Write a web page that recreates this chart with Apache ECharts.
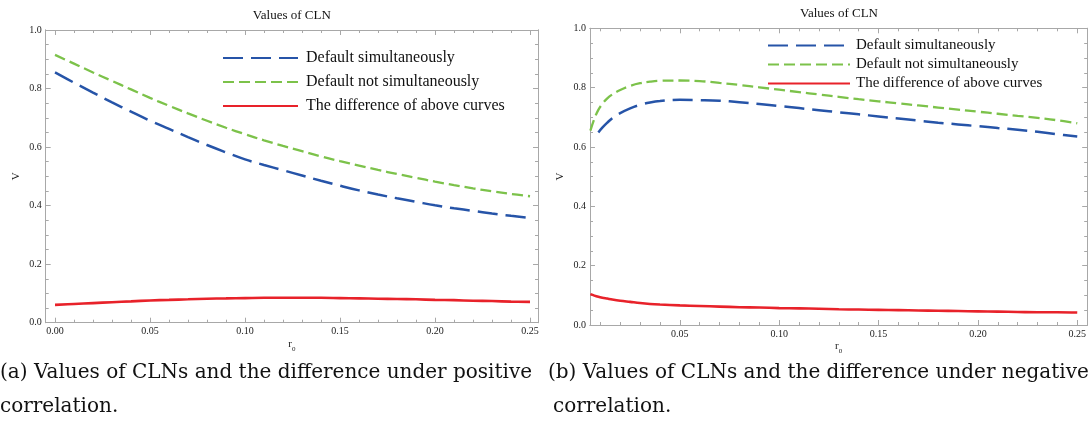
<!DOCTYPE html>
<html>
<head>
<meta charset="utf-8">
<script src="https://cdn.jsdelivr.net/npm/echarts@6/dist/echarts.min.js"></script>
<style>
  html, body { margin: 0; padding: 0; background: #fff; }
  #chart { width: 1089px; height: 435px; }
</style>
</head>
<body>
<div id="chart"></div>
<script>
// series names
var names = ['Default simultaneously', 'Default not simultaneously', 'The difference of above curves'];

// (a) positive correlation
var leftX = [0, 0.01, 0.02, 0.03, 0.04, 0.05, 0.06, 0.07, 0.08, 0.09, 0.10, 0.11, 0.12,
    0.13, 0.14, 0.15, 0.16, 0.17, 0.18, 0.19, 0.20, 0.21, 0.22, 0.23, 0.24, 0.25];
var leftSim = [0.855, 0.820, 0.786, 0.753, 0.721, 0.690, 0.662, 0.634, 0.607, 0.582, 0.558, 0.539, 0.521,
    0.503, 0.485, 0.468, 0.452, 0.438, 0.425, 0.413, 0.401, 0.391, 0.382, 0.373, 0.365, 0.358];
var leftNotSim = [0.915, 0.885, 0.855, 0.826, 0.797, 0.768, 0.741, 0.715, 0.690, 0.666, 0.644, 0.623, 0.604,
    0.586, 0.568, 0.552, 0.537, 0.522, 0.508, 0.495, 0.482, 0.470, 0.459, 0.449, 0.440, 0.432];
var leftDiff = [0.061, 0.064, 0.067, 0.070, 0.073, 0.076, 0.078, 0.080, 0.082, 0.083, 0.084, 0.085, 0.085,
    0.085, 0.085, 0.084, 0.083, 0.082, 0.081, 0.080, 0.078, 0.077, 0.075, 0.074, 0.072, 0.071];

// (b) negative correlation
var rightX = [0.005, 0.007, 0.009, 0.011, 0.0135, 0.016, 0.02, 0.025, 0.03, 0.035, 0.04,
    0.05, 0.06, 0.07, 0.08, 0.09, 0.10, 0.11, 0.12, 0.13, 0.14, 0.15, 0.16, 0.17, 0.18, 0.19,
    0.20, 0.21, 0.22, 0.23, 0.24, 0.25];
var rightSim = [null, null, 0.649, 0.665, 0.682, 0.697, 0.714, 0.730, 0.742, 0.750, 0.755,
    0.759, 0.758, 0.756, 0.751, 0.745, 0.738, 0.731, 0.724, 0.717, 0.710, 0.703, 0.696, 0.689, 0.682, 0.676,
    0.670, 0.664, 0.658, 0.651, 0.643, 0.635];
var rightNotSim = [0.655, 0.695, 0.725, 0.745, 0.764, 0.777, 0.792, 0.806, 0.815, 0.820, 0.823,
    0.824, 0.822, 0.816, 0.809, 0.801, 0.793, 0.785, 0.777, 0.769, 0.761, 0.754, 0.747, 0.740, 0.733, 0.726,
    0.719, 0.712, 0.705, 0.698, 0.690, 0.680];
var rightDiff = [0.104, 0.099, 0.095, 0.092, 0.089, 0.086, 0.082, 0.078, 0.074, 0.071, 0.069,
    0.066, 0.064, 0.062, 0.060, 0.059, 0.057, 0.056, 0.055, 0.053, 0.052, 0.051, 0.050, 0.049, 0.048, 0.047,
    0.046, 0.045, 0.044, 0.043, 0.043, 0.042];

// ticks
var xMajor = [0, 0.05, 0.10, 0.15, 0.20, 0.25];
var xMinor = [0.01, 0.02, 0.03, 0.04, 0.06, 0.07, 0.08, 0.09, 0.11, 0.12, 0.13, 0.14,
    0.16, 0.17, 0.18, 0.19, 0.21, 0.22, 0.23, 0.24];
var yMajor = [0, 0.2, 0.4, 0.6, 0.8, 1.0];
var yMinor = [0.05, 0.1, 0.15, 0.25, 0.3, 0.35, 0.45, 0.5, 0.55, 0.65, 0.7, 0.75, 0.85, 0.9, 0.95];

var serif = '"Liberation Serif", "Times New Roman", serif';
var captionFont = '"DejaVu Serif", serif';
var frameColor = '#a8a8a8';
var colors = ['#2654a8', '#7cc24a', '#e8222a'];

function zip(xs, ys) {
    var out = [];
    for (var i = 0; i < xs.length; i++) out.push([xs[i], ys[i]]);
    return out;
}

// tiny stand-in for $.extend so the file needs no jQuery
var $ = { extend: function(a) {
    for (var i = 1; i < arguments.length; i++) for (var k in arguments[i]) a[k] = arguments[i][k];
    return a;
} };

// one side of the frame: line + inward ticks (+ labels on the main one)
function frameAxis(grid, pos, min, max, ticks, len, label) {
    var isX = pos == 'top' || pos == 'bottom';
    var ax = {
        type: 'value', gridIndex: grid, position: pos, min: min, max: max,
        axisLine: { show: true, onZero: false, lineStyle: { color: frameColor, width: 1 } },
        axisTick: { show: true, inside: true, length: len, customValues: ticks,
            lineStyle: { color: frameColor, width: 1 } },
        axisLabel: { show: !!label, customValues: ticks, color: '#222', fontFamily: serif, fontSize: 10,
            margin: 4,
            formatter: function(v) { return isX ? v.toFixed(2) : v.toFixed(1); } },
        splitLine: { show: false }
    };
    if (label) {
        ax.name = label;
        ax.nameLocation = 'middle';
        ax.nameMoveOverlap = false;
        ax.nameTextStyle = { color: '#222', fontFamily: serif, fontSize: 11,
            rich: { sub: { fontSize: 7, verticalAlign: 'bottom', padding: [0, 0, -3, 0], fontFamily: serif, color: '#222' } } };
        ax.nameGap = isX ? 16 : 24;
    }
    return ax;
}

function gridAxes(grid, xMin, xMax) {
    return {
        x: [
            frameAxis(grid, 'bottom', xMin, xMax, xMajor, 5, 'r{sub|0}'),
            frameAxis(grid, 'bottom', xMin, xMax, xMinor, 3),
            frameAxis(grid, 'top', xMin, xMax, xMajor, 5),
            frameAxis(grid, 'top', xMin, xMax, xMinor, 3)
        ],
        y: [
            frameAxis(grid, 'left', 0, 1, yMajor, 5, 'V'),
            frameAxis(grid, 'left', 0, 1, yMinor, 3),
            frameAxis(grid, 'right', 0, 1, yMajor, 5),
            frameAxis(grid, 'right', 0, 1, yMinor, 3)
        ]
    };
}

function makeSeries(axisIndex, xs, sim, notSim, diff) {
    var base = { type: 'line', xAxisIndex: axisIndex, yAxisIndex: axisIndex, showSymbol: false,
        symbol: 'none', smooth: 0.4, silent: true, z: 3 };
    return [
        $.extend({}, base, { name: names[0], data: zip(xs, sim),
            lineStyle: { color: colors[0], width: 2.5, type: [20, 8] }, itemStyle: { color: colors[0] } }),
        $.extend({}, base, { name: names[1], data: zip(xs, notSim),
            lineStyle: { color: colors[1], width: 2.3, type: [11, 5] }, itemStyle: { color: colors[1] } }),
        $.extend({}, base, { name: names[2], data: zip(xs, diff),
            lineStyle: { color: colors[2], width: 2.6 }, itemStyle: { color: colors[2] } })
    ];
}

var leftAxes = gridAxes(0, -0.0049, 0.2542);
var rightAxes = gridAxes(1, 0.0048, 0.255);

function legendAt(left, top, width, gap, size, textPad) {
    return {
        data: names, orient: 'vertical', left: left, top: top, selectedMode: false, padding: 0,
        itemWidth: width, itemHeight: 14, itemGap: gap,
        itemStyle: { opacity: 0, borderWidth: 0 },
        textStyle: { fontFamily: serif, fontSize: size, color: '#111', padding: [0, 0, 0, textPad] }
    };
}

function text(x, y, str, size, family, align) {
    return { type: 'text', x: x, y: y, silent: true,
        style: { text: str, font: size + 'px ' + family, fill: '#111',
            textAlign: align || 'left', textVerticalAlign: 'middle' } };
}

var myChart = echarts.init(document.getElementById('chart'));

var option = {
    backgroundColor: '#fff',
    animation: false,
    grid: [
        { left: 45.7, top: 30, width: 492.3, height: 292.7 },
        { left: 590, top: 28.3, width: 498, height: 296.7 }
    ],
    xAxis: leftAxes.x.concat(rightAxes.x),
    yAxis: leftAxes.y.concat(rightAxes.y),
    legend: [legendAt(222, 50, 75, 8, 16, 3), legendAt(767, 38, 82, 4, 15, 1)],
    series: makeSeries(0, leftX, leftSim, leftNotSim, leftDiff)
        .concat(makeSeries(4, rightX, rightSim, rightNotSim, rightDiff)),
    graphic: [
        text(291.8, 15.5, 'Values of CLN', 13, serif, 'center'),
        text(839, 14, 'Values of CLN', 13, serif, 'center'),
        text(0, 373, '(a) Values of CLNs and the difference under positive', 20, captionFont),
        text(0, 407, 'correlation.', 20, captionFont),
        text(548, 373, '(b) Values of CLNs and the difference under negative', 20, captionFont),
        text(553, 407, 'correlation.', 20, captionFont)
    ]
};

myChart.setOption(option, true);
</script>
</body>
</html>
